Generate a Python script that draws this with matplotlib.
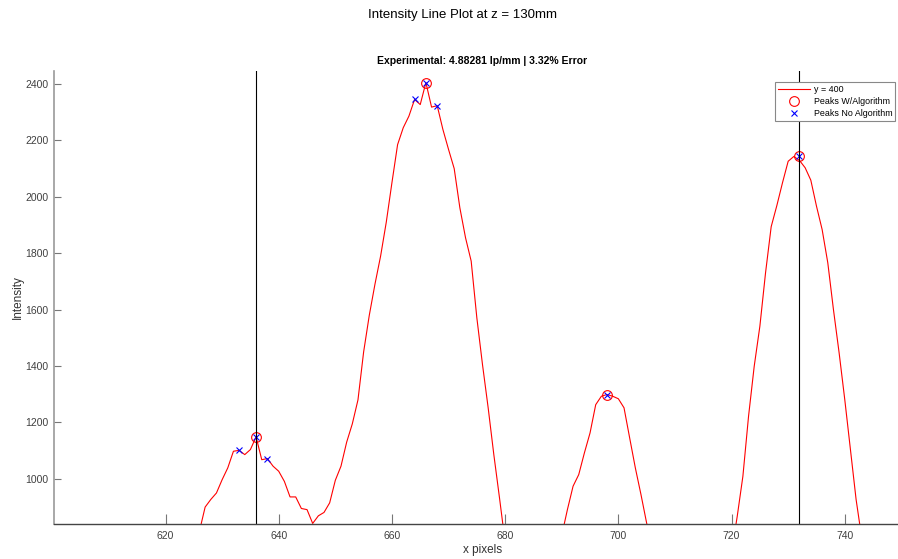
import numpy as np
import matplotlib
matplotlib.use("Agg")
import matplotlib.pyplot as plt

plt.rcParams['font.family'] = ['Liberation Sans', 'DejaVu Sans']

nan = np.nan
# line profile at y = 400 (values below the axis floor are rough guesses)
x_pix = list(range(625, 745))
intensity = [760, 815, 900, 927, 950, 997, 1039, 1098, 1101, 1086,
             1104, 1149, 1068, 1072, 1045, 1027, 991, 936, 936, 895,
             891, 842, 869, 881, 915, 995, 1045, 1130, 1195, 1280,
             1450, 1580, 1690, 1790, 1910, 2050, 2185, 2245, 2286, 2345,
             2327, 2405, 2318, 2323, 2239, 2168, 2100, 1961, 1855, 1772,
             1571, 1405, 1252, 1086, 933, 775, nan, nan, nan, nan,
             nan, nan, nan, nan, nan, 800, 891, 974, 1015, 1092,
             1163, 1263, 1293, 1299, 1293, 1284, 1252, 1145, 1039, 944,
             843, 760, nan, nan, nan, nan, nan, nan, nan, nan,
             nan, nan, nan, nan, nan, 740, 867, 1009, 1222, 1399,
             1541, 1730, 1894, 1969, 2050, 2126, 2143, 2129, 2103, 2059,
             1967, 1884, 1766, 1600, 1447, 1281, 1104, 927, 790]
intensity = intensity + [nan] * (len(x_pix) - len(intensity))

peaks_alg_x = [636, 666, 698, 732]
peaks_alg_y = [1149, 2405, 1299, 2143]
peaks_raw_x = [633, 636, 638, 664, 666, 668, 698, 732]
peaks_raw_y = [1101, 1149, 1072, 2345, 2405, 2323, 1299, 2143]
guide_x = [636, 732]

W, H = 898, 559
fig = plt.figure(figsize=(W / 100, H / 100), dpi=100)
ax = fig.add_axes([54 / W, 35 / H, (911 - 54) / W, 453 / H])

ax.plot(x_pix, intensity, color='red', lw=0.8, label='y = 400')
ax.plot(peaks_alg_x, peaks_alg_y, 'o', mfc='none', mec='red', ms=7, mew=0.8,
        label='Peaks W/Algorithm')
ax.plot(peaks_raw_x, peaks_raw_y, 'x', color='blue', ms=4.5, mew=0.8,
        label='Peaks No Algorithm')
for gx in guide_x:
    ax.axvline(gx, color='black', lw=0.8)

ax.set_xlim(600.3, 751.7)
ax.set_ylim(840, 2446)
ax.set_xticks(range(620, 741, 20))
ax.set_yticks(range(1000, 2401, 200))

for s in ['top', 'right']:
    ax.spines[s].set_visible(False)
ax.spines['left'].set_color('#9a9a9a')
ax.spines['left'].set_linewidth(1.2)
ax.spines['bottom'].set_color('#444444')
ax.spines['bottom'].set_linewidth(1.0)
ax.tick_params(axis='x', direction='in', length=7, width=0.8, colors='#777777',
               labelcolor='#404040', labelsize=7.5, pad=5)
ax.tick_params(axis='y', direction='in', length=5, width=0.8, colors='#777777',
               labelcolor='#404040', labelsize=7.5, pad=4)

ax.set_xlabel('x pixels', fontsize=8.5, color='#333333', labelpad=2)
ax.set_ylabel('Intensity', fontsize=8.5, color='#333333', labelpad=1)

ax.set_title('Experimental: 4.88281 lp/mm | 3.32% Error', fontsize=7.5,
             fontweight='bold', pad=5)
fig.text(463 / W, 1 - 15 / H, 'Intensity Line Plot at z = 130mm',
         fontsize=9.5, ha='center', va='center')

leg = ax.legend(loc='upper left', bbox_to_anchor=(775 / W, 1 - 82 / H),
                bbox_transform=fig.transFigure, fontsize=6.4, frameon=True,
                fancybox=False, edgecolor='#888888', framealpha=1,
                borderpad=0.35, labelspacing=0.35, handlelength=3.6,
                handletextpad=0.4, borderaxespad=0)
leg.get_frame().set_linewidth(0.8)

fig.savefig('out.png', dpi=100)
